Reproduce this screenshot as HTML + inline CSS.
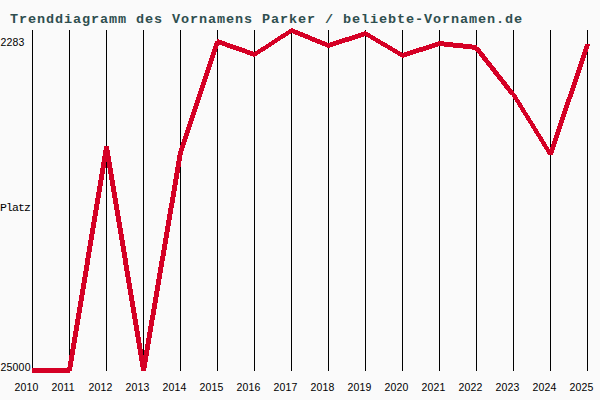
<!DOCTYPE html>
<html><head><meta charset="utf-8"><title>Trenddiagramm des Vornamens Parker</title>
<style>
html,body{margin:0;padding:0;}
body{width:600px;height:400px;background:#fafafa;position:relative;overflow:hidden;}
svg{position:absolute;left:0;top:0;}
h1{position:absolute;margin:0;left:10px;top:12px;font:bold 13.5px/15px "Liberation Mono",monospace;letter-spacing:0.9px;color:#2f4f4f;white-space:pre;}
.s{position:absolute;font:normal 10.5px/13px "Liberation Sans",sans-serif;letter-spacing:0.2px;color:#000;white-space:pre;}
</style></head>
<body>
<svg width="600" height="400" viewBox="0 0 600 400" shape-rendering="crispEdges">
<g fill="#000"><rect x="32" y="30" width="1" height="341"/><rect x="69" y="30" width="1" height="341"/><rect x="106" y="30" width="1" height="341"/><rect x="143" y="30" width="1" height="341"/><rect x="180" y="30" width="1" height="341"/><rect x="217" y="30" width="1" height="341"/><rect x="254" y="30" width="1" height="341"/><rect x="291" y="30" width="1" height="341"/><rect x="328" y="30" width="1" height="341"/><rect x="365" y="30" width="1" height="341"/><rect x="402" y="30" width="1" height="341"/><rect x="439" y="30" width="1" height="341"/><rect x="476" y="30" width="1" height="341"/><rect x="513" y="30" width="1" height="341"/><rect x="550" y="30" width="1" height="341"/><rect x="587" y="30" width="1" height="341"/></g>
<path fill="#d50025" d="M291 28h2v1h-2zM289 29h6v1h-6zM288 30h10v1h-10zM286 31h14v1h-14zM364 31h2v1h-2zM285 32h18v1h-18zM361 32h7v1h-7zM283 33h8v1h-8zM293 33h12v1h-12zM358 33h12v1h-12zM281 34h8v1h-8zM295 34h13v1h-13zM355 34h16v1h-16zM280 35h8v1h-8zM298 35h12v1h-12zM352 35h21v1h-21zM278 36h8v1h-8zM300 36h12v1h-12zM349 36h15v1h-15zM366 36h9v1h-9zM277 37h8v1h-8zM303 37h12v1h-12zM345 37h16v1h-16zM368 37h8v1h-8zM275 38h8v1h-8zM305 38h12v1h-12zM342 38h16v1h-16zM370 38h8v1h-8zM217 39h2v1h-2zM274 39h7v1h-7zM308 39h12v1h-12zM339 39h16v1h-16zM371 39h9v1h-9zM217 40h5v1h-5zM272 40h8v1h-8zM310 40h12v1h-12zM336 40h16v1h-16zM373 40h8v1h-8zM215 41h10v1h-10zM271 41h7v1h-7zM312 41h13v1h-13zM333 41h16v1h-16zM375 41h8v1h-8zM438 41h6v1h-6zM215 42h12v1h-12zM269 42h8v1h-8zM315 42h12v1h-12zM330 42h15v1h-15zM376 42h9v1h-9zM435 42h18v1h-18zM214 43h16v1h-16zM268 43h7v1h-7zM317 43h25v1h-25zM378 43h9v1h-9zM432 43h31v1h-31zM214 44h19v1h-19zM266 44h8v1h-8zM320 44h19v1h-19zM380 44h8v1h-8zM429 44h43v1h-43zM585 44h5v2h-5zM214 45h5v1h-5zM222 45h14v1h-14zM265 45h7v1h-7zM322 45h14v1h-14zM381 45h9v1h-9zM426 45h51v1h-51zM213 46h5v3h-5zM225 46h14v1h-14zM263 46h8v1h-8zM325 46h8v1h-8zM383 46h9v1h-9zM423 46h15v1h-15zM444 46h33v1h-33zM584 46h5v3h-5zM227 47h15v1h-15zM261 47h8v1h-8zM327 47h3v1h-3zM385 47h8v1h-8zM419 47h16v1h-16zM453 47h26v1h-26zM230 48h15v1h-15zM260 48h8v1h-8zM387 48h8v1h-8zM416 48h16v1h-16zM463 48h17v1h-17zM212 49h5v3h-5zM233 49h14v1h-14zM258 49h8v1h-8zM388 49h9v1h-9zM413 49h16v1h-16zM472 49h9v1h-9zM583 49h5v3h-5zM236 50h14v1h-14zM257 50h8v1h-8zM390 50h8v1h-8zM410 50h16v1h-16zM475 50h6v1h-6zM239 51h14v1h-14zM255 51h8v1h-8zM392 51h8v1h-8zM407 51h16v1h-16zM476 51h6v1h-6zM211 52h5v3h-5zM242 52h19v1h-19zM393 52h9v1h-9zM404 52h15v1h-15zM477 52h6v1h-6zM582 52h5v3h-5zM245 53h15v1h-15zM395 53h21v1h-21zM478 53h6v1h-6zM247 54h11v1h-11zM397 54h16v1h-16zM479 54h6v2h-6zM210 55h5v3h-5zM250 55h7v1h-7zM398 55h12v1h-12zM581 55h5v3h-5zM253 56h2v1h-2zM400 56h7v1h-7zM480 56h6v1h-6zM402 57h2v1h-2zM481 57h6v1h-6zM209 58h5v3h-5zM482 58h6v2h-6zM580 58h5v3h-5zM483 60h6v1h-6zM208 61h5v3h-5zM484 61h6v1h-6zM579 61h5v3h-5zM485 62h6v1h-6zM486 63h6v2h-6zM207 64h5v3h-5zM578 64h5v3h-5zM487 65h6v1h-6zM488 66h6v1h-6zM206 67h5v3h-5zM489 67h6v1h-6zM577 67h5v3h-5zM490 68h6v2h-6zM205 70h5v3h-5zM491 70h6v1h-6zM576 70h5v3h-5zM492 71h6v1h-6zM493 72h6v2h-6zM204 73h5v3h-5zM575 73h5v3h-5zM494 74h6v1h-6zM495 75h6v1h-6zM203 76h5v3h-5zM496 76h6v1h-6zM574 76h5v3h-5zM497 77h6v2h-6zM202 79h5v3h-5zM498 79h6v1h-6zM573 79h5v3h-5zM499 80h6v1h-6zM500 81h6v1h-6zM201 82h5v3h-5zM501 82h6v2h-6zM572 82h5v3h-5zM502 84h6v1h-6zM200 85h5v3h-5zM503 85h6v1h-6zM571 85h5v3h-5zM504 86h6v2h-6zM199 88h5v3h-5zM505 88h6v1h-6zM570 88h5v3h-5zM506 89h6v1h-6zM507 90h6v1h-6zM198 91h5v3h-5zM508 91h6v2h-6zM569 91h5v3h-5zM509 93h6v1h-6zM197 94h5v3h-5zM510 94h6v1h-6zM568 94h5v3h-5zM512 95h5v2h-5zM196 97h5v3h-5zM513 97h5v2h-5zM567 97h5v2h-5zM514 99h5v1h-5zM566 99h5v3h-5zM195 100h5v3h-5zM515 100h5v2h-5zM516 102h5v1h-5zM565 102h5v3h-5zM194 103h5v3h-5zM517 103h5v2h-5zM518 105h5v2h-5zM564 105h5v3h-5zM193 106h5v3h-5zM519 107h5v1h-5zM520 108h5v2h-5zM563 108h5v3h-5zM192 109h5v3h-5zM521 110h5v2h-5zM562 111h5v3h-5zM191 112h5v3h-5zM522 112h5v1h-5zM523 113h5v2h-5zM561 114h5v3h-5zM190 115h5v3h-5zM524 115h5v1h-5zM525 116h5v2h-5zM560 117h5v3h-5zM189 118h5v3h-5zM526 118h5v2h-5zM527 120h5v1h-5zM559 120h5v3h-5zM188 121h5v3h-5zM528 121h5v2h-5zM529 123h5v1h-5zM558 123h5v3h-5zM187 124h5v3h-5zM530 124h5v2h-5zM531 126h5v2h-5zM557 126h5v3h-5zM186 127h5v3h-5zM532 128h5v1h-5zM533 129h5v2h-5zM556 129h5v3h-5zM185 130h5v3h-5zM534 131h5v2h-5zM555 132h5v3h-5zM184 133h5v3h-5zM535 133h5v1h-5zM536 134h5v2h-5zM554 135h5v3h-5zM183 136h5v3h-5zM537 136h5v1h-5zM538 137h5v2h-5zM553 138h5v3h-5zM182 139h5v3h-5zM539 139h5v2h-5zM540 141h5v1h-5zM552 141h5v3h-5zM181 142h5v3h-5zM541 142h5v2h-5zM542 144h5v2h-5zM551 144h5v3h-5zM180 145h5v3h-5zM104 146h5v4h-5zM543 146h5v1h-5zM544 147h5v2h-5zM550 147h5v2h-5zM179 148h5v3h-5zM545 149h10v1h-10zM103 150h7v6h-7zM546 150h8v2h-8zM178 151h5v4h-5zM547 152h7v1h-7zM547 153h6v1h-6zM548 154h5v1h-5zM177 155h5v6h-5zM102 156h9v6h-9zM176 161h5v6h-5zM101 162h5v6h-5zM107 162h5v6h-5zM175 167h5v6h-5zM100 168h5v6h-5zM108 168h5v6h-5zM174 173h5v6h-5zM99 174h5v6h-5zM109 174h5v6h-5zM173 179h5v6h-5zM98 180h5v6h-5zM110 180h5v6h-5zM172 185h5v6h-5zM97 186h5v6h-5zM111 186h5v6h-5zM171 191h5v6h-5zM96 192h5v6h-5zM112 192h5v6h-5zM170 197h5v6h-5zM95 198h5v6h-5zM113 198h5v6h-5zM169 203h5v5h-5zM94 204h5v6h-5zM114 204h5v6h-5zM168 208h5v6h-5zM93 210h5v6h-5zM115 210h5v6h-5zM167 214h5v6h-5zM92 216h5v6h-5zM116 216h5v6h-5zM166 220h5v6h-5zM91 222h5v6h-5zM117 222h5v6h-5zM165 226h5v6h-5zM90 228h5v6h-5zM118 228h5v6h-5zM164 232h5v6h-5zM89 234h5v6h-5zM119 234h5v6h-5zM163 238h5v6h-5zM88 240h5v6h-5zM120 240h5v6h-5zM162 244h5v6h-5zM87 246h5v6h-5zM121 246h5v6h-5zM161 250h5v6h-5zM86 252h5v6h-5zM122 252h5v6h-5zM160 256h5v5h-5zM85 258h5v7h-5zM123 258h5v7h-5zM159 261h5v6h-5zM84 265h5v6h-5zM124 265h5v6h-5zM158 267h5v6h-5zM83 271h5v6h-5zM125 271h5v6h-5zM157 273h5v6h-5zM82 277h5v6h-5zM126 277h5v6h-5zM156 279h5v6h-5zM81 283h5v6h-5zM127 283h5v6h-5zM155 285h5v6h-5zM80 289h5v6h-5zM128 289h5v6h-5zM154 291h5v6h-5zM79 295h5v6h-5zM129 295h5v6h-5zM153 297h5v6h-5zM78 301h5v6h-5zM130 301h5v6h-5zM152 303h5v6h-5zM77 307h5v6h-5zM131 307h5v6h-5zM151 309h5v6h-5zM76 313h5v6h-5zM132 313h5v6h-5zM150 315h5v5h-5zM75 319h5v6h-5zM133 319h5v6h-5zM149 320h5v6h-5zM74 325h5v6h-5zM134 325h5v6h-5zM148 326h5v6h-5zM73 331h5v6h-5zM135 331h5v6h-5zM147 332h5v6h-5zM72 337h5v6h-5zM136 337h5v6h-5zM146 338h5v6h-5zM71 343h5v6h-5zM137 343h5v6h-5zM145 344h5v6h-5zM70 349h5v6h-5zM138 349h5v6h-5zM144 350h5v5h-5zM69 355h5v6h-5zM139 355h10v1h-10zM139 356h9v5h-9zM68 361h5v6h-5zM140 361h8v1h-8zM140 362h7v5h-7zM67 367h5v1h-5zM141 367h6v1h-6zM32 368h40v3h-40zM141 368h5v3h-5zM32 371h38v2h-38z"/>
</svg>
<h1>Trenddiagramm des Vornamens Parker / beliebte-Vornamen.de</h1>
<div class="s" style="left:0.5px;top:36px">2283</div>
<div class="s" style="left:0.0px;top:201px;font-family:'Liberation Mono',monospace;font-size:11.5px;letter-spacing:-0.9px;">Platz</div>
<div class="s" style="left:0.5px;top:361px">25000</div>
<div class="s" style="left:14.5px;top:381px">2010</div><div class="s" style="left:51.5px;top:381px">2011</div><div class="s" style="left:88.5px;top:381px">2012</div><div class="s" style="left:125.5px;top:381px">2013</div><div class="s" style="left:162.5px;top:381px">2014</div><div class="s" style="left:199.5px;top:381px">2015</div><div class="s" style="left:236.5px;top:381px">2016</div><div class="s" style="left:273.5px;top:381px">2017</div><div class="s" style="left:310.5px;top:381px">2018</div><div class="s" style="left:347.5px;top:381px">2019</div><div class="s" style="left:384.5px;top:381px">2020</div><div class="s" style="left:421.5px;top:381px">2021</div><div class="s" style="left:458.5px;top:381px">2022</div><div class="s" style="left:495.5px;top:381px">2023</div><div class="s" style="left:532.5px;top:381px">2024</div><div class="s" style="left:569.5px;top:381px">2025</div>
</body></html>
